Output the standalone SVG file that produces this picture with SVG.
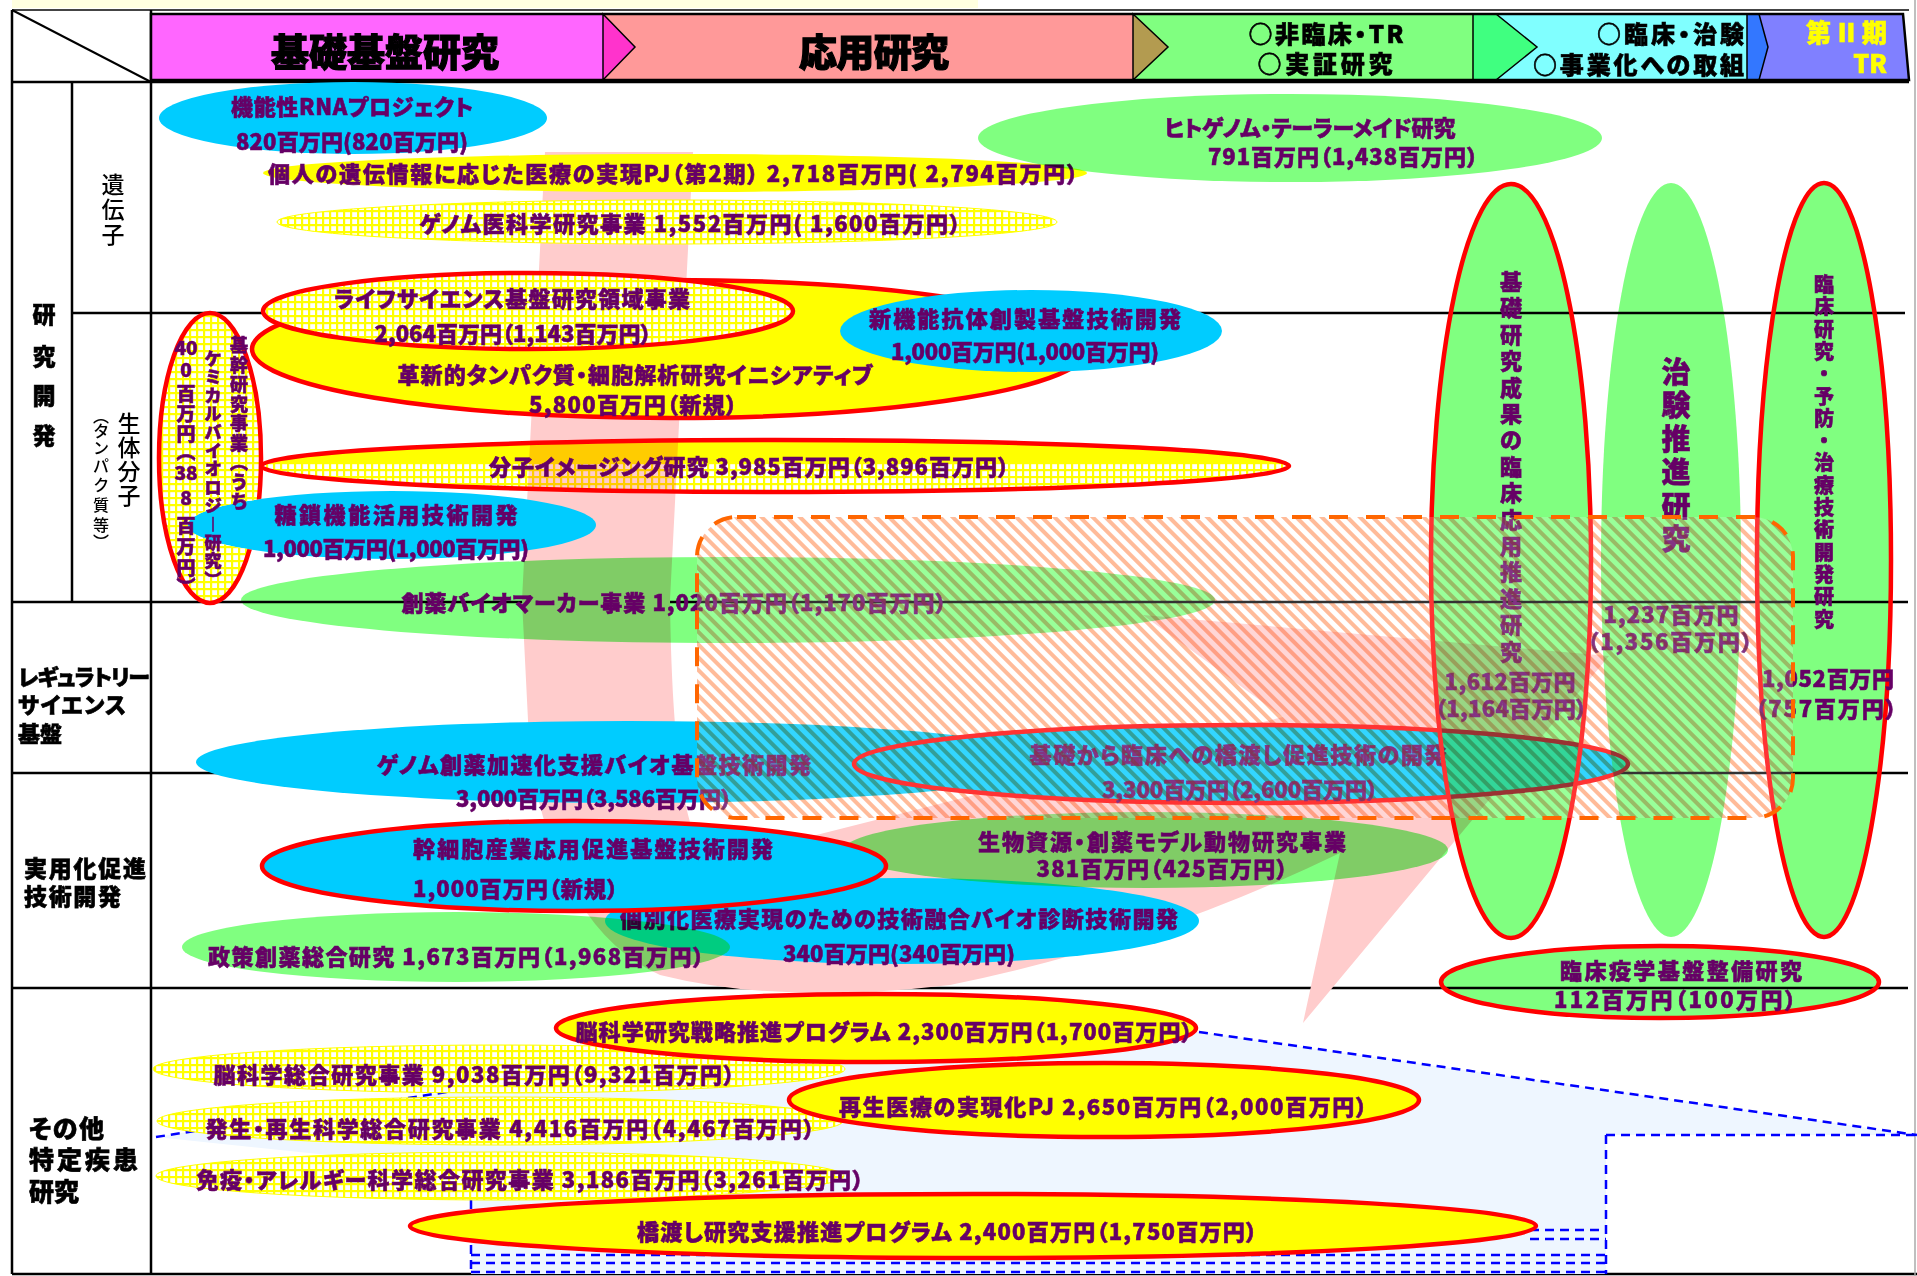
<svg xmlns="http://www.w3.org/2000/svg" width="1917" height="1276" viewBox="0 0 1917 1276">
<defs>
<style>
.t{font-family:"Noto Sans CJK JP","Noto Sans",sans-serif;font-weight:900;fill:#660066;stroke:#660066;stroke-width:0.6;font-size:22px;dominant-baseline:central;text-anchor:middle;font-feature-settings:"palt"}
.k{fill:#000;stroke:#000}
.yl{fill:#FFFF00;stroke:#FFFF00}
.reg{font-weight:500;stroke-width:0}
.st{text-anchor:start}
.en{text-anchor:end}
.cy{fill:#00CCFF}
.gr{fill:#80FF80;mix-blend-mode:multiply}
.ye{fill:#FFFF00}
.gd{fill:url(#grid)}
.rs{fill:none;stroke:#FF0000;stroke-width:4.5}
.ln{stroke:#000;stroke-width:2.5;fill:none}
.bd{stroke:#0000FF;stroke-width:2.5;stroke-dasharray:9 6;fill:none}
.mul{mix-blend-mode:multiply}
</style>
<pattern id="grid" width="7" height="7" patternUnits="userSpaceOnUse"><rect width="7" height="7" fill="#fff"/><rect width="7" height="2.2" fill="#FFFF00"/><rect width="2.2" height="7" fill="#FFFF00"/></pattern>
<pattern id="hatch" width="9" height="9" patternUnits="userSpaceOnUse" patternTransform="rotate(-45)"><rect width="4" height="9" fill="#FFAA80"/></pattern>
<mask id="m-tousa" maskUnits="userSpaceOnUse" x="0" y="0" width="1917" height="1276"><rect width="1917" height="1276" fill="#fff"/><ellipse cx="392" cy="525" rx="204" ry="34" fill="#000"/></mask>
<clipPath id="c-bunshi"><rect x="250" y="430" width="1050" height="32"/></clipPath>
</defs>
<rect width="1917" height="1276" fill="#fff"/>
<rect x="12" y="0" width="966" height="8" fill="#FFFFE0"/>

<g id="table">
<line class="ln" x1="12" y1="10" x2="1909" y2="10" style="stroke:#444;stroke-width:2"/>
<line class="ln" x1="12" y1="82" x2="1909" y2="82"/>
<line class="ln" x1="12" y1="10" x2="12" y2="1274"/>
<line class="ln" x1="151" y1="10" x2="151" y2="1274"/>
<line class="ln" x1="72" y1="82" x2="72" y2="602"/>
<line class="ln" x1="12" y1="10" x2="151" y2="82" style="stroke-width:2"/>
<line class="ln" x1="72" y1="313" x2="1905" y2="313"/>
<line class="ln" x1="12" y1="602" x2="1908" y2="602"/>
<line class="ln" x1="12" y1="773" x2="1908" y2="773"/>
<line class="ln" x1="12" y1="988" x2="1908" y2="988"/>
<line class="ln" x1="12" y1="1274" x2="1917" y2="1274"/>
<line x1="1915" y1="0" x2="1915" y2="1276" stroke="#aaa" stroke-width="1.5"/>
</g>

<g id="header">
<rect x="151" y="14" width="452" height="66" fill="#FF66FF"/>
<rect x="603" y="14" width="530" height="66" fill="#FF9999"/>
<rect x="1133" y="14" width="340" height="66" fill="#80FF80"/>
<rect x="1473" y="14" width="286" height="66" fill="#80FFFF"/>
<polygon points="1747,14 1903,14 1909,80 1747,80" fill="#8080FF"/>
<polygon points="603,14 635,47 603,80" fill="#FF33CC" stroke="#000" stroke-width="1.5"/>
<polygon points="1133,14 1168,47 1133,80" fill="#B39B50" stroke="#000" stroke-width="1.5"/>
<polygon points="1473,14 1496,14 1537,47 1496,80 1473,80" fill="#40FF80" stroke="#000" stroke-width="1.5"/>
<polygon points="1747,14 1759,14 1768,47 1759,80 1747,80" fill="#3377FF" stroke="#000" stroke-width="1.5"/>
<polygon points="151,14 1903,14 1909,80 151,80" fill="none" stroke="#000" stroke-width="2.5"/>
<text class="t k" x="385" y="49" style="font-size:38px;stroke-width:1.2" textLength="228">基礎基盤研究</text>
<text class="t k" x="874" y="49" style="font-size:38px;stroke-width:1.2" textLength="150">応用研究</text>
<text class="t k" x="1326" y="32" style="font-size:24px" textLength="155">○非臨床・TR</text>
<text class="t k" x="1325" y="62" style="font-size:24px" textLength="135">○実証研究</text>
<text class="t k en" x="1744" y="32" style="font-size:24px" textLength="147">○臨床・治験</text>
<text class="t k en" x="1744" y="63" style="font-size:24px" textLength="211">○事業化への取組</text>
<text class="t yl en" x="1887" y="31" style="font-size:25px" textLength="81">第Ⅱ期</text>
<text class="t yl en" x="1887" y="62" style="font-size:25px">TR</text>
</g>

<g id="row-labels">
<text class="t k" style="font-size:23px"><tspan x="44" y="313">研</tspan><tspan x="44" y="355">究</tspan><tspan x="44" y="394">開</tspan><tspan x="44" y="434">発</tspan></text>
<text class="t k reg" style="font-size:23px"><tspan x="113" y="183">遺</tspan><tspan x="113" y="208">伝</tspan><tspan x="113" y="233">子</tspan></text>
<text class="t k reg" style="font-size:23px"><tspan x="129" y="422">生</tspan><tspan x="129" y="446">体</tspan><tspan x="129" y="470">分</tspan><tspan x="129" y="494">子</tspan></text>
<text class="t k reg" style="font-size:16px"><tspan x="101" y="415">︵</tspan><tspan x="101" y="430">タ</tspan><tspan x="101" y="447">ン</tspan><tspan x="101" y="465">パ</tspan><tspan x="101" y="484">ク</tspan><tspan x="101" y="504">質</tspan><tspan x="101" y="524">等</tspan><tspan x="101" y="541">︶</tspan></text>
<text class="t k st" x="18" y="675" style="font-size:22px" textLength="132">レギュラトリー</text>
<text class="t k st" x="18" y="703" style="font-size:22px" textLength="108">サイエンス</text>
<text class="t k st" x="18" y="732" style="font-size:22px">基盤</text>
<text class="t k st" x="24" y="867" style="font-size:23px" textLength="122">実用化促進</text>
<text class="t k st" x="24" y="895" style="font-size:23px" textLength="97">技術開発</text>
<text class="t k st" x="29" y="1127" style="font-size:25px" textLength="75">その他</text>
<text class="t k st" x="29" y="1158" style="font-size:25px" textLength="109">特定疾患</text>
<text class="t k st" x="29" y="1190" style="font-size:25px">研究</text>
</g>

<g id="connectors">
<path id="pink-arrow" d="M545,152 L693,152 L670,600 C672,760 686,840 710,862 L1283,717 L1143,615 L1609,656 L1303,1023 L1340,853 Q1150,945 950,985 Q780,1005 660,975 Q560,930 530,760 L522,600 Z" fill="#FFCCCC"/>
<g id="blue-callout">
<polygon points="156,1137 880,1025 1199,1032 1917,1135 1606,1135 1606,1274 471,1274 471,1170" fill="#EEF6FF"/>
<path class="bd" d="M156,1137 L880,1025 M1199,1032 L1917,1135 M1606,1135 L1917,1135 M1606,1135 L1606,1274 M471,1200 L471,1274 M1530,1230 L1606,1230 M1530,1239 L1606,1239 M471,1255 L1606,1255 M471,1263 L1606,1263 M471,1272 L1606,1272"/>
</g>
</g>

<g id="n-kojin"><ellipse cx="675" cy="173" rx="412" ry="19" class="ye"/><text class="t" x="673" y="172" textLength="810">個人の遺伝情報に応じた医療の実現PJ（第2期） 2,718百万円( 2,794百万円）</text></g>
<g id="n-genome-ika"><ellipse cx="667" cy="222" rx="390" ry="22" class="gd" stroke="#FFFF00" stroke-width="1"/><text class="t" x="690" y="222" textLength="541">ゲノム医科学研究事業 1,552百万円( 1,600百万円）</text></g>
<g id="n-rna"><ellipse cx="353" cy="118" rx="194" ry="36" class="cy"/><text class="t" x="352" y="105" textLength="242">機能性RNAプロジェクト</text><text class="t" x="352" y="140" textLength="232">820百万円(820百万円)</text></g>
<g id="n-hitogenome"><ellipse cx="1290" cy="138" rx="312" ry="44" class="gr"/><text class="t" x="1310" y="126" textLength="291">ヒトゲノム・テーラーメイド研究</text><text class="t" x="1343" y="155" textLength="270">791百万円（1,438百万円）</text></g>
<g id="n-kakushin"><ellipse cx="670" cy="349" rx="418" ry="69" class="ye"/><ellipse cx="670" cy="349" rx="418" ry="69" class="rs"/><text class="t" x="635" y="373" textLength="475">革新的タンパク質・細胞解析研究イニシアティブ</text><text class="t" x="633" y="403" textLength="208">5,800百万円（新規）</text></g>
<g id="n-life"><ellipse cx="528" cy="311" rx="265" ry="38" class="gd"/><ellipse cx="528" cy="311" rx="265" ry="38" class="rs"/><text class="t" x="512" y="297" textLength="356">ライフサイエンス基盤研究領域事業</text><text class="t" x="513" y="332" textLength="277">2,064百万円（1,143百万円）</text></g>
<g id="n-kotai"><ellipse cx="1031" cy="331" rx="191" ry="41" class="cy"/><text class="t" x="1025" y="317" textLength="312">新機能抗体創製基盤技術開発</text><text class="t" x="1025" y="350" textLength="268">1,000百万円(1,000百万円)</text></g>
<g id="n-bunshi"><ellipse cx="775" cy="466" rx="514" ry="26" class="gd mul"/><ellipse cx="775" cy="466" rx="514" ry="26" class="ye mul" clip-path="url(#c-bunshi)"/><ellipse cx="775" cy="466" rx="514" ry="26" class="rs"/><text class="t" x="749" y="465" textLength="520">分子イメージング研究 3,985百万円（3,896百万円）</text></g>
<g id="n-tousa"><ellipse cx="392" cy="525" rx="204" ry="34" class="cy"/><text class="t" x="396" y="513" textLength="243">糖鎖機能活用技術開発</text><text class="t" x="396" y="547" textLength="266">1,000百万円(1,000百万円)</text></g>
<g id="n-kikan">
<g mask="url(#m-tousa)"><ellipse cx="210" cy="458" rx="51" ry="145" class="gd"/><ellipse cx="210" cy="458" rx="51" ry="145" class="rs"/></g>
<text class="t" style="font-size:18px"><tspan x="239" y="344">基</tspan><tspan x="239" y="363.5">幹</tspan><tspan x="239" y="383">研</tspan><tspan x="239" y="402.5">究</tspan><tspan x="239" y="422">事</tspan><tspan x="239" y="441.5">業</tspan><tspan x="239" y="461">︵</tspan><tspan x="239" y="480.5">う</tspan><tspan x="239" y="500">ち</tspan></text>
<text class="t" style="font-size:17px"><tspan x="213" y="357">ケ</tspan><tspan x="213" y="375.4">ミ</tspan><tspan x="213" y="393.8">カ</tspan><tspan x="213" y="412.2">ル</tspan><tspan x="213" y="430.6">バ</tspan><tspan x="213" y="449">イ</tspan><tspan x="213" y="467.4">オ</tspan><tspan x="213" y="485.8">ロ</tspan><tspan x="213" y="504.2">ジ</tspan><tspan x="213" y="522.6">︱</tspan><tspan x="213" y="541">研</tspan><tspan x="213" y="559.4">究</tspan><tspan x="213" y="577.8">︶</tspan></text>
<text class="t" style="font-size:19px"><tspan x="186" y="346">40</tspan><tspan x="186" y="368">0</tspan><tspan x="186" y="392">百</tspan><tspan x="186" y="412">万</tspan><tspan x="186" y="432">円</tspan><tspan x="186" y="450">︵</tspan><tspan x="186" y="471">38</tspan><tspan x="186" y="496">8</tspan><tspan x="186" y="524">百</tspan><tspan x="186" y="545">万</tspan><tspan x="186" y="566">円</tspan><tspan x="186" y="585">︶</tspan></text>
</g>
<g id="n-biomarker"><ellipse cx="728" cy="600" rx="487" ry="43" class="gr"/><text class="t" x="674" y="601" textLength="545">創薬バイオマーカー事業 1,020百万円（1,170百万円）</text></g>
<g id="n-genome-soyaku"><ellipse cx="628" cy="762" rx="432" ry="41" class="cy"/><text class="t" x="594" y="763" textLength="434">ゲノム創薬加速化支援バイオ基盤技術開発</text><text class="t" x="594" y="797" textLength="276">3,000百万円（3,586百万円）</text></g>
<g id="n-kiso-rinsho"><ellipse cx="1241" cy="764" rx="387" ry="39" class="cy"/><ellipse cx="1241" cy="764" rx="387" ry="39" class="rs"/><text class="t" x="1238" y="753" textLength="417">基礎から臨床への橋渡し促進技術の開発</text><text class="t" x="1240" y="788" textLength="276">3,300百万円（2,600百万円）</text></g>
<g id="n-kobetsu"><ellipse cx="902" cy="921" rx="297" ry="43" class="cy"/><text class="t" x="899" y="917" textLength="558">個別化医療実現のための技術融合バイオ診断技術開発</text><text class="t" x="899" y="952" textLength="232">340百万円(340百万円)</text></g>
<g id="n-seisaku"><ellipse cx="456" cy="947" rx="274" ry="35" class="gr"/><text class="t" x="456" y="955" textLength="496">政策創薬総合研究 1,673百万円（1,968百万円）</text></g>
<g id="n-seibutsu"><ellipse cx="1146" cy="850" rx="302" ry="38" class="gr"/><text class="t" x="1162" y="840" textLength="368">生物資源・創薬モデル動物研究事業</text><text class="t" x="1162" y="867" textLength="251">381百万円（425百万円）</text></g>
<g id="n-kansaibo"><ellipse cx="574" cy="866" rx="312" ry="45" class="cy"/><ellipse cx="574" cy="866" rx="312" ry="45" class="rs"/><text class="t st" x="413" y="847" textLength="360">幹細胞産業応用促進基盤技術開発</text><text class="t st" x="413" y="887" textLength="205">1,000百万円（新規）</text></g>

<g id="n-kiso-kenkyu"><ellipse cx="1511" cy="561" rx="80" ry="377" class="gr"/><ellipse cx="1511" cy="561" rx="80" ry="377" class="rs"/>
<text class="t" style="font-size:22px"><tspan x="1511" y="280">基</tspan><tspan x="1511" y="306.4">礎</tspan><tspan x="1511" y="332.8">研</tspan><tspan x="1511" y="359.2">究</tspan><tspan x="1511" y="385.6">成</tspan><tspan x="1511" y="412">果</tspan><tspan x="1511" y="438.4">の</tspan><tspan x="1511" y="464.8">臨</tspan><tspan x="1511" y="491.2">床</tspan><tspan x="1511" y="517.6">応</tspan><tspan x="1511" y="544">用</tspan><tspan x="1511" y="570.4">推</tspan><tspan x="1511" y="596.8">進</tspan><tspan x="1511" y="623.2">研</tspan><tspan x="1511" y="649.6">究</tspan></text>
<text class="t" x="1510" y="680" textLength="131">1,612百万円</text><text class="t" x="1511" y="707" textLength="152">（1,164百万円）</text></g>
<g id="n-chiken"><ellipse cx="1671" cy="560" rx="70" ry="377" class="gr"/>
<text class="t" style="font-size:29px"><tspan x="1676" y="370">治</tspan><tspan x="1676" y="403.4">験</tspan><tspan x="1676" y="436.8">推</tspan><tspan x="1676" y="470.2">進</tspan><tspan x="1676" y="503.6">研</tspan><tspan x="1676" y="537">究</tspan></text>
<text class="t" x="1671" y="613" textLength="135">1,237百万円</text><text class="t" x="1670" y="640" textLength="165">（1,356百万円）</text></g>
<g id="n-rinsho-kenkyu"><ellipse cx="1824" cy="560" rx="67" ry="377" class="gr"/><ellipse cx="1824" cy="560" rx="67" ry="377" class="rs"/>
<text class="t" style="font-size:20px"><tspan x="1824" y="283">臨</tspan><tspan x="1824" y="305.3">床</tspan><tspan x="1824" y="327.6">研</tspan><tspan x="1824" y="349.9">究</tspan><tspan x="1824" y="372.2">・</tspan><tspan x="1824" y="394.5">予</tspan><tspan x="1824" y="416.8">防</tspan><tspan x="1824" y="439.1">・</tspan><tspan x="1824" y="461.4">治</tspan><tspan x="1824" y="483.7">療</tspan><tspan x="1824" y="506">技</tspan><tspan x="1824" y="528.3">術</tspan><tspan x="1824" y="550.6">開</tspan><tspan x="1824" y="572.9">発</tspan><tspan x="1824" y="595.2">研</tspan><tspan x="1824" y="617.5">究</tspan></text>
<text class="t" x="1828" y="677" textLength="132">1,052百万円</text><text class="t" x="1826" y="707" textLength="141">（757百万円）</text></g>
<g id="n-ekigaku"><ellipse cx="1660" cy="982" rx="219" ry="36" class="gr"/><ellipse cx="1660" cy="982" rx="219" ry="36" class="rs"/><text class="t" x="1681" y="969" textLength="242">臨床疫学基盤整備研究</text><text class="t" x="1675" y="998" textLength="242">112百万円（100万円）</text></g>

<g id="n-nou-sogo"><ellipse cx="499" cy="1069" rx="346" ry="24" class="gd" stroke="#FFFF00" stroke-width="1"/><text class="t" x="474" y="1073" textLength="521">脳科学総合研究事業 9,038百万円（9,321百万円）</text></g>
<g id="n-nou-senryaku"><ellipse cx="876" cy="1028" rx="320" ry="34" class="ye"/><ellipse cx="876" cy="1028" rx="320" ry="34" class="rs"/><text class="t" x="884" y="1030" textLength="617">脳科学研究戦略推進プログラム 2,300百万円（1,700百万円）</text></g>
<g id="n-hassei"><ellipse cx="500" cy="1121" rx="343" ry="24" class="gd" stroke="#FFFF00" stroke-width="1"/><text class="t" x="510" y="1127" textLength="609">発生・再生科学総合研究事業 4,416百万円（4,467百万円）</text></g>
<g id="n-saisei"><ellipse cx="1104" cy="1100" rx="315" ry="37" class="ye"/><ellipse cx="1104" cy="1100" rx="315" ry="37" class="rs"/><text class="t" x="1103" y="1105" textLength="528">再生医療の実現化PJ 2,650百万円（2,000百万円）</text></g>
<g id="n-meneki"><ellipse cx="500" cy="1176" rx="344" ry="24" class="gd" stroke="#FFFF00" stroke-width="1"/><text class="t" x="530" y="1178" textLength="667">免疫・アレルギー科学総合研究事業 3,186百万円（3,261百万円）</text></g>
<g id="n-hashiwatashi"><ellipse cx="973" cy="1226" rx="563" ry="32" class="ye"/><ellipse cx="973" cy="1226" rx="563" ry="32" class="rs"/><text class="t" x="947" y="1230" textLength="620">橋渡し研究支援推進プログラム 2,400百万円（1,750百万円）</text></g>

<g id="highlight-box">
<rect x="697" y="517" width="1096" height="301" rx="40" fill="url(#hatch)" class="mul"/>
<rect x="697" y="517" width="1096" height="301" rx="40" fill="#fff" fill-opacity="0.2"/>
<rect x="697" y="517" width="1096" height="301" rx="40" fill="none" stroke="#FF6600" stroke-width="4" stroke-dasharray="19 18"/>
</g>
</svg>
